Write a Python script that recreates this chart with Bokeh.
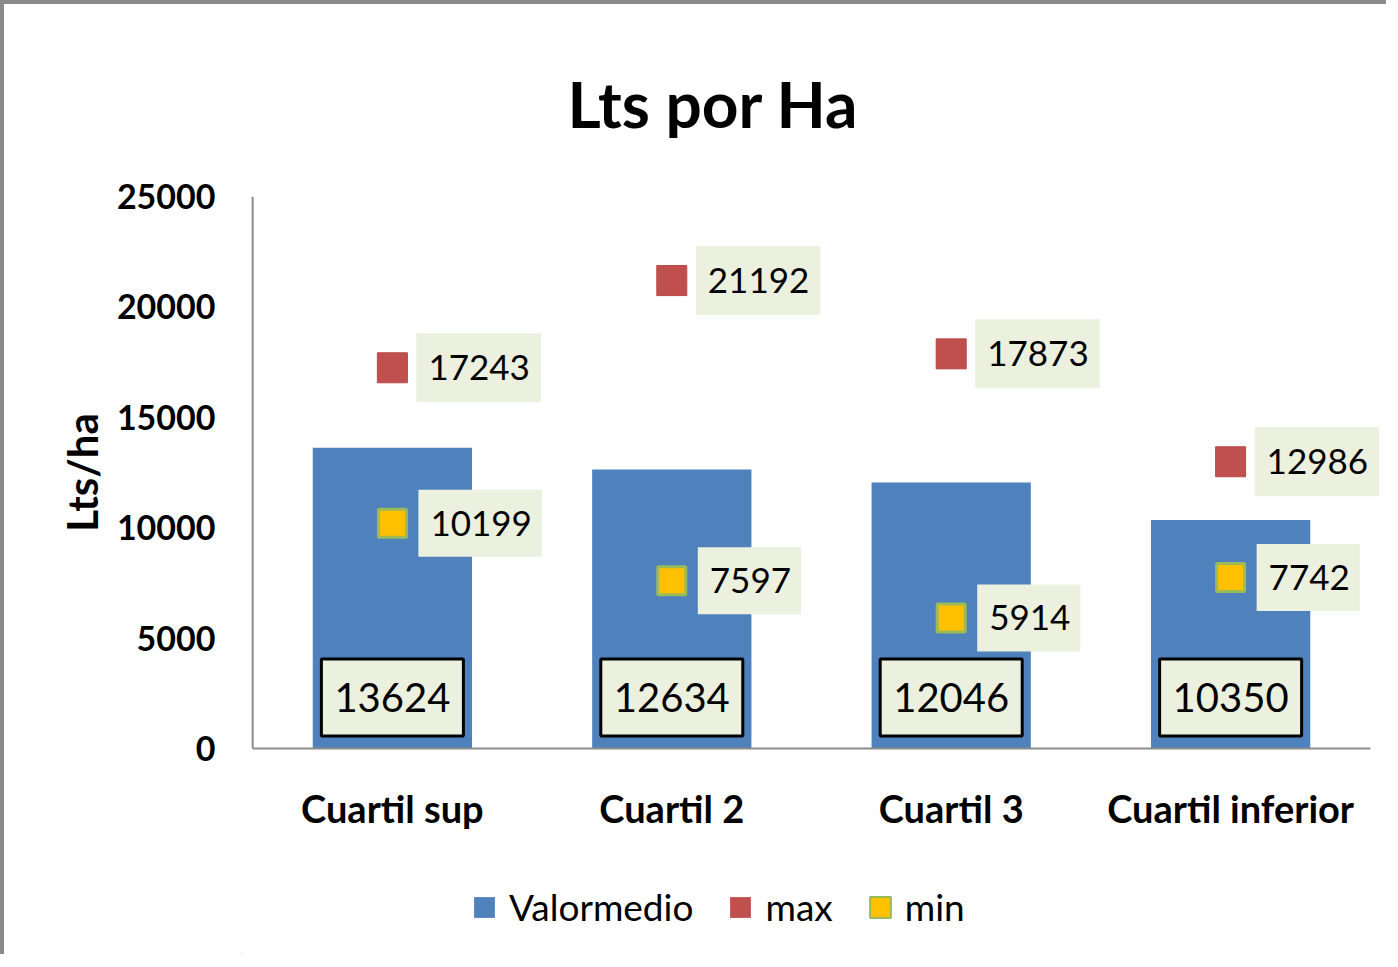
from bokeh.plotting import figure
from bokeh.layouts import column
from bokeh.models import (ColumnDataSource, Legend, LegendItem, Span, Title,
                          Range1d, FactorRange, FixedTicker)
from bokeh.core.properties import value
from bokeh.embed import file_html
from bokeh.resources import INLINE

categories = ["Cuartil sup", "Cuartil 2", "Cuartil 3", "Cuartil inferior"]
valor_medio = [13624, 12634, 12046, 10350]
max_vals = [17243, 21192, 17873, 12986]
min_vals = [10199, 7597, 5914, 7742]
y_ticks = [0, 5000, 10000, 15000, 20000, 25000]

FONT = "Lato"
BLUE = "#4F81BD"
RED = "#C0504D"
YELLOW = "#FFC000"
GREEN = "#9BBB59"
LABEL_BG = "#EBF1DE"
AXIS_GRAY = "#8C8C8C"

p = figure(x_range=FactorRange(factors=categories, range_padding=0.04,
                               range_padding_units="absolute"),
           y_range=Range1d(0, 25000),
           width=1382, height=870, output_backend="svg", toolbar_location=None,
           min_border_left=237, min_border_right=5,
           min_border_top=192, min_border_bottom=126)
p.outline_line_color = None
p.xgrid.grid_line_color = None
p.ygrid.grid_line_color = None

# title
p.title = Title(text="Lts por Ha", align="left", offset=326, standoff=110,
                text_font=FONT, text_font_size="64px", text_font_style="bold",
                text_color="black")

src = ColumnDataSource(dict(
    cat=categories, mean=valor_medio, mx=max_vals, mn=min_vals,
    zero=[0] * len(categories),
    mean_txt=[str(v) for v in valor_medio],
    mx_txt=[str(v) for v in max_vals],
    mn_txt=[str(v) for v in min_vals],
))

bars = p.vbar(x="cat", top="mean", width=0.57, source=src,
              fill_color=BLUE, line_color=None)
mx_r = p.scatter(x="cat", y="mx", marker="square", size=30, source=src,
                 fill_color=RED, line_color="#B8474A", line_width=1)
mn_r = p.scatter(x="cat", y="mn", marker="square", size=28, source=src,
                 fill_color=YELLOW, line_color=GREEN, line_width=3)

# data labels
p.text(x="cat", y="mx", text="mx_txt", source=src, x_offset=24,
       text_align="left", text_baseline="middle",
       text_font=value(FONT), text_font_size="35px", text_color="black",
       background_fill_color=LABEL_BG,
       padding=dict(left=12, right=11, top=22, bottom=22))
p.text(x="cat", y="mn", text="mn_txt", source=src, x_offset=26,
       text_align="left", text_baseline="middle",
       text_font=value(FONT), text_font_size="35px", text_color="black",
       background_fill_color=LABEL_BG,
       padding=dict(left=12, right=10, top=21, bottom=21))
p.text(x="cat", y="zero", text="mean_txt", source=src, y_offset=-51,
       text_align="center", text_baseline="middle",
       text_font=value(FONT), text_font_size="40px", text_color="black",
       background_fill_color=LABEL_BG, border_line_color="black",
       border_line_width=3,
       padding=dict(left=13, right=13, top=24, bottom=24))

# axes
p.yaxis.ticker = FixedTicker(ticks=y_ticks)
for ax in (p.xaxis[0], p.yaxis[0]):
    ax.axis_line_color = AXIS_GRAY
    ax.axis_line_width = 2
    ax.major_tick_line_color = None
    ax.minor_tick_line_color = None
    ax.major_tick_out = 0
    ax.major_tick_in = 0
    ax.minor_tick_out = 0
    ax.major_label_text_font = FONT
    ax.major_label_text_font_style = "bold"
    ax.major_label_text_color = "black"
p.yaxis.axis_line_color = None
p.add_layout(Span(location=0, dimension="height", line_color=AXIS_GRAY, line_width=2))
p.xaxis.bounds = (0, len(categories))
p.yaxis.major_label_text_font_size = "34px"
p.yaxis.major_label_standoff = 26
p.yaxis.axis_label = "Lts/ha"
p.yaxis.axis_label_text_font = FONT
p.yaxis.axis_label_text_font_style = "bold"
p.yaxis.axis_label_text_font_size = "42px"
p.yaxis.axis_label_text_color = "black"
p.yaxis.axis_label_standoff = 7
p.xaxis.major_label_text_font_size = "38px"
p.xaxis.major_label_standoff = 36

# legend strip below the chart: proxy bars kept entirely outside its visible ranges
leg = figure(width=1382, height=80, output_backend="svg", toolbar_location=None,
             x_range=Range1d(100, 200), y_range=Range1d(1000, 2000),
             x_axis_type=None, y_axis_type=None, min_border=0)
leg.outline_line_color = None
leg.grid.visible = False
px_mean = leg.vbar(x="zero", top="zero", width=0.5, source=src,
                   fill_color=BLUE, line_color=None)
px_max = leg.vbar(x="zero", top="zero", width=0.5, source=src,
                  fill_color=RED, line_color=None)
px_min = leg.vbar(x="zero", top="zero", width=0.5, source=src,
                  fill_color=YELLOW, line_color=GREEN, line_width=2)
legend = Legend(items=[LegendItem(label="Valormedio", renderers=[px_mean], index=0),
                       LegendItem(label="max", renderers=[px_max], index=0),
                       LegendItem(label="min", renderers=[px_min], index=0)],
                orientation="horizontal", location=(230, 25),
                glyph_width=26, glyph_height=26, label_text_font=FONT,
                label_text_font_size="37px", label_text_color="black",
                label_standoff=12, spacing=34, padding=0, margin=0,
                label_height=40, border_line_color=None, background_fill_alpha=0)
leg.add_layout(legend)

layout = column(p, leg, spacing=0)
layout.styles = {"border-left": "4px solid #8A8A8A", "border-top": "4px solid #8A8A8A"}

open("out.html", "w").write(file_html(layout, INLINE))
